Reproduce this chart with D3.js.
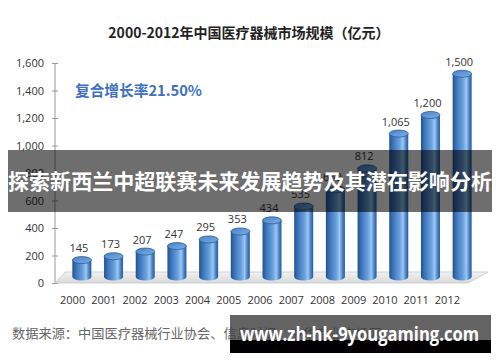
<!DOCTYPE html>
<html><head><meta charset="utf-8">
<script src="https://cdn.jsdelivr.net/npm/d3@7"></script>
<style>html,body{margin:0;padding:0;background:#fff;}svg{display:block;}</style>
</head><body><svg id="c" width="500" height="362"></svg>
<script>
const years = ["2000","2001","2002","2003","2004","2005","2006","2007","2008","2009","2010","2011","2012"];
const values = [145,173,207,247,295,353,434,535,659,812,1065,1200,1500];
const valueLabels = ["145","173","207","247","295","353","434","535","659","812","1,065","1,200","1,500"];
const yTicks = [0,200,400,600,800,1000,1200,1400,1600];
const titleText = "2000-2012年中国医疗器械市场规模（亿元）";
const cagrText = "复合增长率21.50%";
const sourceText = "数据来源：中国医疗器械行业协会、信息时报、中华专业市场网";
const bannerText = "探索新西兰中超联赛未来发展趋势及其潜在影响分析";
const watermarkText = "www.zh-hk-9yougaming.com";

const svg = d3.select("#c");
const CJK = "'Noto Sans CJK SC','Noto Sans',sans-serif";
const y = d3.scaleLinear().domain([0,1600]).range([283,63]);
const xLab = d3.scaleBand().domain(years).range([57,463]);
const xBar = d3.scaleBand().domain(years).range([66,478]);
const defs = svg.append("defs");
const g1 = defs.append("linearGradient").attr("id","bodyG").attr("x1","0").attr("x2","1").attr("y1","0").attr("y2","0");
[[0,"#24508c"],[0.18,"#3a72b8"],[0.55,"#6aa2de"],[0.72,"#9cc8f2"],[0.88,"#4680c6"],[1,"#285898"]].forEach(s=>g1.append("stop").attr("offset",s[0]).attr("stop-color",s[1]));
const g2 = defs.append("linearGradient").attr("id","topG").attr("x1","0").attr("x2","1").attr("y1","0").attr("y2","1");
[[0,"#4880c3"],[1,"#7cb0e6"]].forEach(s=>g2.append("stop").attr("offset",s[0]).attr("stop-color",s[1]));
const g3 = defs.append("linearGradient").attr("id","floorG").attr("x1","0").attr("x2","0").attr("y1","0").attr("y2","1");
[[0,"#f2f2f2"],[1,"#d9d9d9"]].forEach(s=>g3.append("stop").attr("offset",s[0]).attr("stop-color",s[1]));

// title
svg.append("text").attr("x",249).attr("y",38).attr("text-anchor","middle")
  .style("font-family",CJK).style("font-weight","bold").style("font-size","14px").attr("fill","#222").text(titleText);

// y axis
const ax = svg.append("g").attr("transform","translate(55,0)")
  .call(d3.axisLeft(y).tickValues(yTicks).tickFormat(d3.format(",")).tickSize(4).tickPadding(7));
ax.select(".domain").attr("stroke","#999").attr("d","M0,63V283");
ax.selectAll(".tick line").attr("stroke","#999").attr("x1",-3).attr("x2",3);
ax.selectAll("text").style("font-family","'Open Sans',sans-serif").style("font-size","11px").attr("fill","#333");

// floor
const fl = 55, fr = 468, back = 10, depth = 11;
svg.append("polygon").attr("points",[[fl,y(0)],[fr,y(0)],[fr+20,y(0)-depth],[fl+back,y(0)-depth]].map(p=>p.join(",")).join(" "))
  .attr("fill","url(#floorG)").attr("stroke","#c8c8c8").attr("stroke-width",0.8);

// bars
const bw = 19, ry = 3.5, base = y(0)-6;
const bars = svg.append("g");
years.forEach((yr,i)=>{
  const cx = xBar(yr) + xBar.bandwidth()/2;
  const top = y(values[i]) - 3;
  const x0 = cx - bw/2, x1 = cx + bw/2;
  bars.append("path").attr("d",`M${x0},${top}L${x0},${base}A${bw/2},${ry} 0 0 0 ${x1},${base}L${x1},${top}Z`).attr("fill","url(#bodyG)");
  bars.append("ellipse").attr("cx",cx).attr("cy",top).attr("rx",bw/2).attr("ry",ry).attr("fill","url(#topG)").attr("stroke","#2c5d9c").attr("stroke-width",0.8);
  bars.append("text").attr("x",cx-3).attr("y",top-8).attr("text-anchor","middle")
    .style("font-family","'Open Sans',sans-serif").style("font-size","11px").attr("fill","#333").text(valueLabels[i]);
});

// x labels
years.forEach(yr=>{
  svg.append("text").attr("x",xLab(yr)+xLab.bandwidth()/2).attr("y",304).attr("text-anchor","middle")
    .style("font-family","'Open Sans',sans-serif").style("font-size","11px").attr("fill","#333").text(yr);
});

// CAGR
svg.append("text").attr("x",75).attr("y",96).style("font-family",CJK).style("font-weight","bold").style("font-size","15px")
  .attr("fill","#3e70c2").attr("textLength",127).attr("lengthAdjust","spacingAndGlyphs").text(cagrText);

// source
svg.append("text").attr("x",12).attr("y",338).style("font-family",CJK).style("font-size","13px").attr("fill","#666")
  .attr("textLength",370).attr("lengthAdjust","spacingAndGlyphs").text(sourceText);

// banner
svg.append("rect").attr("x",8).attr("y",150).attr("width",484).attr("height",62).attr("fill","rgba(0,0,0,0.57)");
svg.append("text").attr("x",250).attr("y",189).attr("text-anchor","middle").style("font-family",CJK).style("font-weight","bold")
  .style("font-size","21px").attr("fill","#fff").attr("textLength",484).attr("lengthAdjust","spacingAndGlyphs").text(bannerText);

// watermark
svg.append("rect").attr("x",230).attr("y",315).attr("width",261).attr("height",25).attr("fill","rgba(60,60,60,0.8)");
svg.append("rect").attr("x",230).attr("y",340).attr("width",261).attr("height",13).attr("fill","#000");
svg.append("text").attr("x",240).attr("y",341).style("font-family","'Open Sans',sans-serif").style("font-weight","bold")
  .style("font-size","20px").attr("fill","#fff").attr("textLength",239).attr("lengthAdjust","spacingAndGlyphs").text(watermarkText);
</script></body></html>
